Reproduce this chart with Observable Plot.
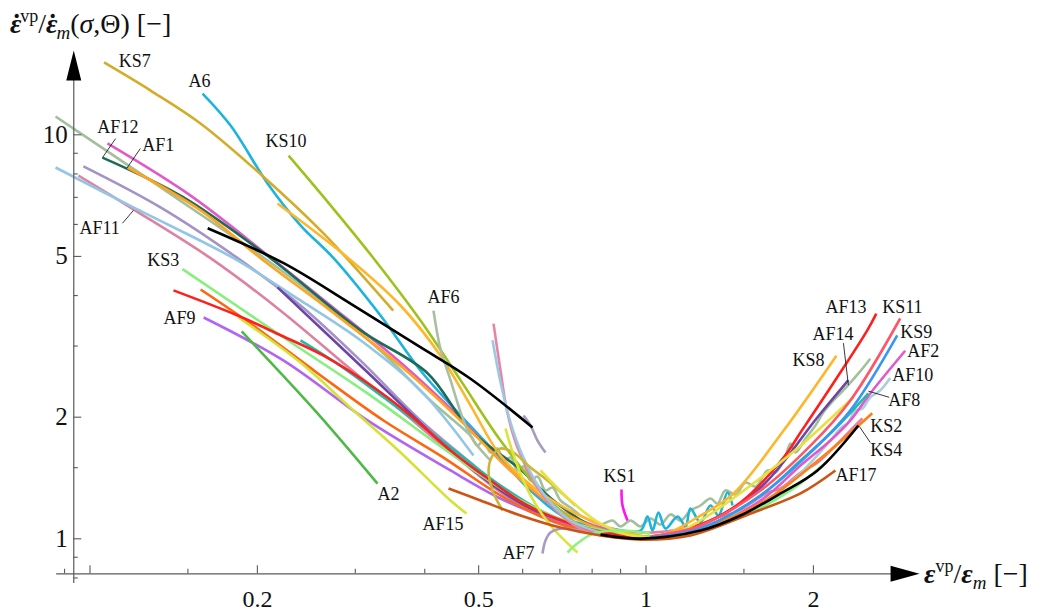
<!DOCTYPE html>
<html>
<head>
<meta charset="utf-8">
<script src="https://cdn.jsdelivr.net/npm/d3@7"></script>
<script src="https://cdn.jsdelivr.net/npm/@observablehq/plot@0.6"></script>
<style>
  body { margin: 0; background: #fff; }
  #chart { width: 1045px; height: 611px; }
</style>
</head>
<body>
<div id="chart"></div>
<script>
// Normalised viscoplastic strain rate vs. normalised strain, one curve per test.

const ks7X = [0.106, 0.1285, 0.158, 0.2086, 0.263, 0.351];
const ks7Y = [15.1, 12.87, 10.67, 7.71, 5.70, 3.67];

const a6X = [0.1594, 0.179, 0.2086, 0.2391, 0.2742, 0.333, 0.393, 0.4638, 0.5318, 0.6198, 0.7314, 0.8632, 0.9775, 1.006, 1.0275, 1.053, 1.084, 1.14, 1.178, 1.202, 1.253, 1.306, 1.35, 1.401, 1.431];
const a6Y = [12.65, 10.54, 7.58, 5.97, 4.95, 3.57, 2.61, 2.02, 1.654, 1.317, 1.110, 1.060, 1.048, 1.136, 1.048, 1.162, 1.060, 1.136, 1.073, 1.189, 1.097, 1.209, 1.142, 1.302, 1.209];

const ks10X = [0.2276, 0.2708, 0.3235, 0.393, 0.4638, 0.5474, 0.646, 0.7624, 0.8997];
const ks10Y = [8.88, 6.69, 4.95, 3.47, 2.47, 1.751, 1.317, 1.079, 1.007];

const sageX = [0.0867, 0.1044, 0.1285, 0.1581, 0.2052, 0.2598, 0.333, 0.4096, 0.4834, 0.4976, 0.5102, 0.5252, 0.5406, 0.5542, 0.5705, 0.5873, 0.6021, 0.6198, 0.638, 0.6595, 0.6789, 0.7018, 0.7314, 0.7624, 0.7946, 0.8282, 0.8704, 0.8997, 0.9377, 0.9775, 1.019, 1.062, 1.107, 1.154, 1.202, 1.253, 1.306, 1.344, 1.389, 1.449, 1.510, 1.574, 1.654, 1.710, 1.782, 1.819, 1.857, 1.936, 2.017, 2.085, 2.173, 2.284, 2.41, 2.531];
const sageY = [11.10, 9.35, 7.71, 6.35, 4.97, 3.89, 2.92, 2.20, 1.80, 1.70, 1.751, 1.635, 1.673, 1.562, 1.589, 1.476, 1.509, 1.394, 1.426, 1.317, 1.339, 1.244, 1.195, 1.142, 1.110, 1.085, 1.110, 1.073, 1.110, 1.073, 1.123, 1.085, 1.149, 1.110, 1.175, 1.209, 1.258, 1.223, 1.317, 1.287, 1.378, 1.347, 1.476, 1.459, 1.607, 1.721, 1.635, 1.771, 1.908, 2.056, 2.20, 2.36, 2.566, 2.79];

const lightBlueX = [0.0867, 0.1197, 0.1812, 0.2391, 0.3066, 0.393, 0.4894];
const lightBlueY = [8.30, 6.61, 4.95, 3.89, 3.10, 2.33, 1.607];

const lavenderX = [0.0973, 0.1339, 0.1843, 0.2391, 0.3066, 0.393, 0.4834, 0.5947, 0.7624, 0.9775];
const lavenderY = [8.35, 6.61, 4.95, 3.78, 2.76, 1.963, 1.544, 1.209, 1.048, 1.001];

const af2X = [0.1075, 0.1517, 0.2112, 0.2708, 0.3618, 0.4638, 0.5705, 0.7018, 0.8632, 1.019, 1.253, 1.607, 1.896, 2.146, 2.331, 2.531, 2.925];
const af2Y = [9.52, 7.07, 4.97, 3.78, 2.73, 1.987, 1.476, 1.175, 1.048, 1.007, 1.048, 1.244, 1.518, 1.751, 1.963, 2.29, 2.92];

const af12X = [0.1053, 0.1473, 0.2112, 0.3066, 0.4046, 0.4834, 0.5947, 0.6817, 0.7946, 0.8997];
const af12Y = [8.78, 7.00, 4.95, 3.28, 2.57, 1.854, 1.484, 1.244, 1.079, 1.019];

const af1X = [0.1168, 0.1581, 0.2027, 0.2708, 0.3618, 0.4638, 0.5705, 0.7018, 0.8632, 0.9775];
const af1Y = [8.30, 6.50, 4.95, 3.67, 2.68, 1.963, 1.476, 1.175, 1.036, 1.001];

const blackX = [0.1628, 0.223, 0.2941, 0.3882, 0.4834, 0.625];
const blackY = [5.87, 4.81, 3.82, 3.01, 2.49, 1.886];

const ks8X = [0.2174, 0.2905, 0.3618, 0.427, 0.4834, 0.5474, 0.646, 0.7946, 0.9377, 1.062, 1.253, 1.437, 1.768, 2.20];
const ks8Y = [6.76, 4.97, 3.78, 2.84, 2.14, 1.607, 1.302, 1.110, 1.030, 1.019, 1.142, 1.295, 1.854, 2.84];

const ks3X = [0.1467, 0.223, 0.3156, 0.445, 0.5947, 0.7314, 0.8997, 1.062, 1.253, 1.479, 1.819, 2.128];
const ks3Y = [4.65, 3.15, 2.29, 1.626, 1.244, 1.097, 1.030, 1.007, 1.048, 1.129, 1.317, 1.562];

const af13X = [0.1413, 0.1843, 0.2202, 0.2631, 0.3156, 0.3771, 0.445, 0.5252, 0.6122, 0.7314, 0.8632, 0.9775, 1.253, 1.479, 1.768, 1.896, 2.173, 2.50, 2.595];
const af13Y = [4.12, 3.57, 3.19, 2.84, 2.43, 2.02, 1.654, 1.394, 1.209, 1.091, 1.030, 1.007, 1.085, 1.230, 1.589, 1.833, 2.43, 3.28, 3.61];

const orangeRedX = [0.1581, 0.1944, 0.2566, 0.3372, 0.4323, 0.5474, 0.6733, 0.8282, 0.9775];
const orangeRedY = [4.14, 3.41, 2.57, 1.963, 1.589, 1.280, 1.110, 1.030, 1.001];

const af15X = [0.185, 0.2391, 0.2941, 0.3618, 0.445, 0.4755];
const af15Y = [3.53, 2.73, 2.11, 1.635, 1.244, 1.155];

const af9X = [0.1601, 0.223, 0.3156, 0.445, 0.5474, 0.646, 0.7624, 0.8997];
const af9Y = [3.53, 2.76, 1.963, 1.476, 1.258, 1.142, 1.060, 1.013];

const a2X = [0.1874, 0.2566, 0.3289];
const a2Y = [3.26, 2.045, 1.370];

const af8X = [0.2391, 0.2822, 0.3372, 0.445, 0.5474, 0.6733, 0.8282, 0.9775, 1.253, 1.607, 1.896, 2.173, 2.511];
const af8Y = [3.10, 2.68, 2.24, 1.683, 1.355, 1.142, 1.036, 1.001, 1.060, 1.280, 1.562, 1.854, 2.29];

const af14X = [0.2174, 0.3104, 0.445, 0.5474, 0.646, 0.7624, 0.8997, 1.062, 1.253, 1.607, 2.034, 2.312];
const af14Y = [4.19, 2.64, 1.654, 1.317, 1.155, 1.060, 1.013, 1.019, 1.079, 1.339, 1.999, 2.47];

const af11X = [0.0953, 0.1197, 0.1647, 0.2202, 0.2822, 0.3618, 0.4638, 0.5705, 0.7018, 0.8282, 1.019, 1.253, 1.361, 1.449, 1.542, 1.654, 1.746, 1.896, 2.034, 2.191, 2.331, 2.449];
const af11Y = [7.93, 6.54, 4.95, 3.67, 2.76, 2.08, 1.562, 1.258, 1.110, 1.060, 1.036, 1.085, 1.136, 1.162, 1.223, 1.302, 1.332, 1.459, 1.544, 1.70, 1.854, 1.987];

const af6X = [0.4147, 0.427, 0.445, 0.4696, 0.4894, 0.5252];
const af6Y = [3.67, 2.945, 2.47, 1.963, 1.751, 1.562];

const pinkSteepX = [0.5318, 0.5474, 0.5635, 0.5873, 0.638, 0.7224, 0.8045, 0.8997];
const pinkSteepY = [3.41, 2.61, 2.045, 1.683, 1.339, 1.110, 1.030, 1.007];

const blueSteepX = [0.5296, 0.5474, 0.5705, 0.5996, 0.6514, 0.7314, 0.8282];
const blueSteepY = [3.10, 2.44, 1.941, 1.607, 1.302, 1.110, 1.036];

const spurX = [0.6021, 0.6198, 0.638, 0.6595];
const spurY = [2.02, 1.908, 1.751, 1.635];

const loopX = [0.552, 0.5296, 0.5209, 0.5296, 0.5474, 0.5776, 0.6198, 0.665, 0.7467];
const loopY = [1.175, 1.317, 1.476, 1.607, 1.673, 1.635, 1.501, 1.394, 1.209];

const limeX = [0.5588, 0.5824, 0.6198, 0.6733, 0.7529];
const limeY = [1.875, 1.562, 1.280, 1.079, 0.925];

const yellowX = [0.646, 0.7314, 0.8282, 0.9653, 1.154, 1.253, 1.542, 1.896, 2.36];
const yellowY = [1.476, 1.244, 1.091, 1.013, 1.048, 1.110, 1.355, 1.70, 2.24];

const af7X = [0.6514, 0.6595, 0.6733, 0.7076, 0.7624];
const af7Y = [0.920, 0.990, 1.036, 1.060, 1.048];

const hookX = [0.7224, 0.756, 0.8045, 0.8997, 1.019];
const hookY = [0.925, 0.979, 1.030, 1.048, 1.030];

const ks1X = [0.9034, 0.9072, 0.9261];
const ks1Y = [1.325, 1.209, 1.110];

const af17X = [0.4414, 0.5039, 0.5947, 0.7018, 0.8282, 0.9775, 1.202, 1.542, 1.896, 2.191];
const af17Y = [1.332, 1.244, 1.142, 1.066, 1.019, 0.995, 1.019, 1.155, 1.295, 1.476];

const ks4X = [0.8282, 0.9775, 1.253, 1.479, 1.746, 2.034, 2.41];
const ks4Y = [1.024, 1.001, 1.048, 1.142, 1.295, 1.476, 1.908];

const ks2X = [1.019, 1.253, 1.607, 2.059, 2.552];
const ks2Y = [1.007, 1.060, 1.223, 1.580, 2.045];

const ks11X = [1.019, 1.253, 1.607, 1.976, 2.331, 2.865];
const ks11Y = [1.013, 1.079, 1.317, 1.70, 2.20, 3.51];

const ks9X = [1.019, 1.253, 1.607, 1.976, 2.331, 2.83];
const ks9Y = [1.007, 1.060, 1.280, 1.635, 2.08, 3.19];

const af10X = [1.019, 1.253, 1.746, 2.146, 2.237, 2.312, 2.38, 2.449, 2.531, 2.638, 2.749];
const af10Y = [1.013, 1.066, 1.317, 1.751, 1.875, 1.941, 2.08, 2.10, 2.24, 2.33, 2.50];

// Curve labels and their anchor points (left edge, vertical middle)
const labelNames = ["KS7", "A6", "KS10", "AF12", "AF1", "AF11", "KS3", "AF9", "AF6", "A2", "AF15", "AF7", "KS1",
  "AF13", "KS11", "KS9", "AF2", "AF10", "AF8", "AF14", "KS8", "KS2", "KS4", "AF17"];
const labelX = [0.1126, 0.1504, 0.2069, 0.1031, 0.1242, 0.0957, 0.1268, 0.1356, 0.4046, 0.3289, 0.3963, 0.552, 0.8386,
  2.102, 2.66, 2.865, 2.949, 2.772, 2.727, 1.992, 1.834, 2.531, 2.531, 2.191];
const labelY = [15.18, 13.55, 9.62, 10.43, 9.41, 5.87, 4.89, 3.51, 3.96, 1.287, 1.085, 0.920, 1.426,
  3.74, 3.74, 3.24, 2.92, 2.54, 2.20, 3.21, 2.77, 1.897, 1.654, 1.434];

// Leader lines from a label to its curve
const leaderX1 = [0.1112, 0.1232, 0.1144, 2.265, 2.738, 2.531];
const leaderY1 = [9.79, 9.25, 6.04, 3.05, 2.24, 1.731];
const leaderX2 = [0.1053, 0.1164, 0.1197, 2.312, 2.511, 2.42];
const leaderY2 = [8.78, 8.25, 6.50, 2.40, 2.32, 1.897];

// Axis ticks
const xMajor = [0.1, 0.2, 0.5, 1, 2];
const xMinor = [0.09, 0.15, 0.3, 0.4, 0.6, 0.7, 0.8, 0.9, 1.5];
const xLabeled = [0.2, 0.5, 1, 2];
const yMajor = [1, 2, 5, 10];
const yMinor = [0.8, 0.9, 1.5, 3, 4, 6, 7, 8, 9];

// Where each axis crosses the other, in data units
const xAxisAt = 0.819;   // y value of the horizontal axis
const yAxisAt = 0.0935;  // x value of the vertical axis

const series = [
  ["sage", sageX, sageY, "#a3c09d"],
  ["a6", a6X, a6Y, "#1cb4dc"],
  ["af11", af11X, af11Y, "#dd82a3"],
  ["af10", af10X, af10Y, "#a9cde3"],
  ["af2", af2X, af2Y, "#e05bc8"],
  ["lavender", lavenderX, lavenderY, "#a394c5"],
  ["af12", af12X, af12Y, "#1f6b5a"],
  ["af1", af1X, af1Y, "#ffa41c"],
  ["lightBlue", lightBlueX, lightBlueY, "#93c6e6"],
  ["ks10", ks10X, ks10Y, "#9cc31d"],
  ["ks7", ks7X, ks7Y, "#d3ad2a"],
  ["ks8", ks8X, ks8Y, "#ffb62a"],
  ["af14", af14X, af14Y, "#6d45a8"],
  ["af8", af8X, af8Y, "#20bba9"],
  ["af9", af9X, af9Y, "#b265f0"],
  ["orangeRed", orangeRedX, orangeRedY, "#ff6612"],
  ["ks3", ks3X, ks3Y, "#85f07c"],
  ["af15", af15X, af15Y, "#d5e236"],
  ["a2", a2X, a2Y, "#4fb947"],
  ["af13", af13X, af13Y, "#ff1f1f"],
  ["pinkSteep", pinkSteepX, pinkSteepY, "#e585a8"],
  ["blueSteep", blueSteepX, blueSteepY, "#9dc8e2"],
  ["af6", af6X, af6Y, "#a9bfa3"],
  ["spur", spurX, spurY, "#a99bc0"],
  ["loop", loopX, loopY, "#cdb43a"],
  ["lime", limeX, limeY, "#d8e63a"],
  ["yellow", yellowX, yellowY, "#e6e23c"],
  ["af7", af7X, af7Y, "#a99bc0"],
  ["hook", hookX, hookY, "#8cf27a"],
  ["ks2", ks2X, ks2Y, "#ff8014"],
  ["ks11", ks11X, ks11Y, "#ff5569"],
  ["ks9", ks9X, ks9Y, "#3797f3"],
  ["af17", af17X, af17Y, "#cd5415"],
  ["ks4", ks4X, ks4Y, "#000000"],
  ["black", blackX, blackY, "#000000"],
  ["ks1", ks1X, ks1Y, "#ff14ee"]
];

const lineMarks = series.map(([name, xs, ys, color]) =>
  Plot.line(xs.map((x, i) => ({x, y: ys[i]})), {
    x: "x", y: "y", stroke: color, strokeWidth: 2.6,
    curve: "catmull-rom", strokeLinecap: "butt"
  })
);

const labels = labelNames.map((t, i) => ({t, x: labelX[i], y: labelY[i]}));
const leaders = leaderX1.map((x1, i) => ({x1, y1: leaderY1[i], x2: leaderX2[i], y2: leaderY2[i]}));

// Filled arrowheads at the axis ends
const arrowRight = {draw(ctx) { ctx.moveTo(0, 0); ctx.lineTo(-29, -8); ctx.lineTo(-29, 8); ctx.closePath(); }};
const arrowUp = {draw(ctx) { ctx.moveTo(0, 0); ctx.lineTo(-7.5, 30); ctx.lineTo(7.5, 30); ctx.closePath(); }};

const axisColor = "#5a5a5a";
const font = "Liberation Serif";

const chart = Plot.plot({
  width: 1045,
  height: 611,
  margin: 0,
  x: {type: "log", domain: [0.1, 2], range: [89.5, 812.9], axis: null},
  y: {type: "log", domain: [1, 10], range: [538.3, 134.3], axis: null},
  style: {fontFamily: font, background: "#fff"},
  marks: [
    ...lineMarks,
    // axis lines
    Plot.ruleY([xAxisAt], {x1: 0.0871, x2: 3.0, stroke: axisColor, strokeWidth: 1.2}),
    Plot.ruleX([yAxisAt], {y1: 0.775, y2: 14.0, stroke: axisColor, strokeWidth: 1.2}),
    // ticks
    Plot.ruleX(xMajor, {x: d => d, y1: () => xAxisAt, y2: () => xAxisAt, insetTop: -8, stroke: axisColor, strokeWidth: 1.1}),
    Plot.ruleX(xMinor, {x: d => d, y1: () => xAxisAt, y2: () => xAxisAt, insetTop: -4.5, stroke: axisColor, strokeWidth: 1.1}),
    Plot.ruleY(yMajor, {y: d => d, x1: () => yAxisAt, x2: () => yAxisAt, insetRight: -8, stroke: axisColor, strokeWidth: 1.1}),
    Plot.ruleY(yMinor, {y: d => d, x1: () => yAxisAt, x2: () => yAxisAt, insetRight: -4.5, stroke: axisColor, strokeWidth: 1.1}),
    // tick labels
    Plot.text(xLabeled, {x: d => d, y: () => xAxisAt, dy: 25, text: d => String(d), fontSize: 24, fontFamily: font, fill: "#111"}),
    Plot.text(yMajor, {x: () => yAxisAt, y: d => d, dx: -6, text: d => String(d), textAnchor: "end", fontSize: 25, fontFamily: font, fill: "#111"}),
    // arrowheads
    Plot.dot([3.104], {x: d => d, y: () => xAxisAt, symbol: arrowRight, r: 5, fill: "#000", stroke: null}),
    Plot.dot([16.17], {x: () => yAxisAt, y: d => d, symbol: arrowUp, r: 5, fill: "#000", stroke: null}),
    // curve labels
    Plot.link(leaders, {x1: "x1", y1: "y1", x2: "x2", y2: "y2", stroke: "#222", strokeWidth: 0.9}),
    Plot.text(labels, {x: "x", y: "y", text: "t", textAnchor: "start", fontSize: 18, fontFamily: font, fill: "#111"})
  ]
});

document.getElementById("chart").appendChild(chart);

// Axis titles with sub- and superscripts; a rate gets a dot placed over its epsilon
function axisTitle(svg, x, y, parts) {
  const t = d3.select(svg).append("text")
    .attr("x", x).attr("y", y)
    .attr("text-anchor", "start")
    .attr("font-family", font).attr("font-size", 28).attr("fill", "#111");
  for (const p of parts) {
    const s = t.append("tspan").text(p.t);
    if (p.b) s.attr("font-weight", "bold");
    if (p.i) s.attr("font-style", "italic");
    if (p.s) s.attr("font-size", p.s);
    if (p.dx) s.attr("dx", p.dx);
    if (p.dy) s.attr("dy", p.dy);
  }
}
axisTitle(chart, 10, 33, [
  {t: "\u03b5", b: 1, i: 1},
  {t: "\u02d9", b: 1, dx: -9.5},
  {t: "vp", s: 18, dx: -1, dy: -11},
  {t: "/", dy: 11},
  {t: "\u03b5", b: 1, i: 1},
  {t: "\u02d9", b: 1, dx: -9.5},
  {t: "m", s: 19, i: 1, dx: -1, dy: 6},
  {t: "(", dy: -6},
  {t: "\u03c3", i: 1},
  {t: ",\u0398) [\u2212]"}
]);
axisTitle(chart, 924, 583, [
  {t: "\u03b5", b: 1, i: 1},
  {t: "vp", s: 18, dy: -11},
  {t: "/", dy: 11},
  {t: "\u03b5", b: 1, i: 1},
  {t: "m", s: 19, i: 1, dy: 6},
  {t: " [\u2212]", dy: -6}
]);
</script>
</body>
</html>
